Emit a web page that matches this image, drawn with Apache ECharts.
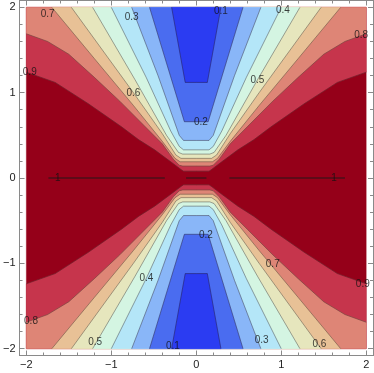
<!DOCTYPE html>
<html>
<head>
<meta charset="utf-8">
<script src="https://cdn.jsdelivr.net/npm/echarts@6/dist/echarts.min.js"></script>
<style>
  html, body { margin: 0; padding: 0; background: #fff; }
  #main { width: 374px; height: 373px; }
</style>
</head>
<body>
<div id="main"></div>
<script>
// contour levels, and band colours from the lowest band (0-0.1) up to the top one (0.9-1)
var levels = [0.1, 0.2, 0.3, 0.4, 0.5, 0.6, 0.7, 0.8, 0.9];
var bandColors = ['#2b3cf2', '#4a6cf0', '#89b6f8', '#b4e6f8', '#d4f5e2',
                  '#e6e6bd', '#e8c196', '#de8576', '#c6354c', '#950019'];

// upper-left branch of every contour, from the frame edge in to x = 0
// (the plot is symmetric in x and y, so the other three quarters are mirrored)
var c01 = [[-0.29, 2], [-0.13, 1.12], [0, 1.12]];
var c02 = [[-0.55, 2], [-0.14, 0.66], [0, 0.66]];
var c03 = [[-0.76, 2], [-0.45, 1.2], [-0.2, 0.5], [-0.15, 0.44], [0, 0.44]];
var c04 = [[-1.0, 2], [-0.59, 1.18], [-0.3, 0.55], [-0.2, 0.37], [-0.15, 0.33], [0, 0.33]];
var c05 = [[-1.22, 2], [-0.72, 1.15], [-0.35, 0.5], [-0.21, 0.3], [-0.16, 0.28], [0, 0.28]];
var c06 = [[-1.47, 2], [-0.74, 1.0], [-0.4, 0.52], [-0.24, 0.27], [-0.18, 0.23], [0, 0.23]];
var c07 = [[-1.70, 2], [-1.2, 1.4], [-0.74, 0.85], [-0.4, 0.43], [-0.25, 0.23], [-0.19, 0.19], [0, 0.19]];
var c08 = [[-2, 1.69], [-1.75, 1.6], [-1.5, 1.45], [-1.2, 1.18], [-0.9, 0.9], [-0.6, 0.6],
           [-0.4, 0.4], [-0.27, 0.22], [-0.2, 0.15], [-0.16, 0.14], [0, 0.14]];
var c09 = [[-2, 1.24], [-1.66, 1.12], [-1.27, 0.87], [-0.88, 0.6], [-0.68, 0.45], [-0.49, 0.33],
           [-0.3, 0.19], [-0.18, 0.1], [-0.15, 0.08], [0, 0.08]];
var branches = [c01, c02, c03, c04, c05, c06, c07, c08, c09];

// pieces of the level-1 contour lying on y = 0
var oneSegments = [[-1.74, -0.37], [-0.12, 0.12], [0.39, 1.75]];

// contour labels [x, y, text]
var contourLabels = [
  [-1.75, 1.92, '0.7'], [-0.76, 1.88, '0.3'], [0.29, 1.95, '0.1'], [1.02, 1.96, '0.4'],
  [1.94, 1.67, '0.8'], [-1.96, 1.235, '0.9'], [-0.74, 0.99, '0.6'], [0.72, 1.15, '0.5'],
  [0.055, 0.65, '0.2'], [-1.63, 0, '1'], [1.62, 0, '1'], [0.113, -0.67, '0.2'],
  [0.90, -1.01, '0.7'], [-0.586, -1.18, '0.4'], [1.96, -1.25, '0.9'], [-1.945, -1.68, '0.8'],
  [-1.19, -1.93, '0.5'], [-0.275, -1.97, '0.1'], [0.77, -1.90, '0.3'], [1.45, -1.95, '0.6']
];

var majorTicks = [-2, -1, 0, 1, 2];
var minorTicks = [-2, -1.8, -1.6, -1.4, -1.2, -1, -0.8, -0.6, -0.4, -0.2, 0,
                  0.2, 0.4, 0.6, 0.8, 1, 1.2, 1.4, 1.6, 1.8, 2];

// whole contour (left branch + mirrored right branch), sy = 1 upper half, -1 lower half
function fullContour(branch, sy) {
  var pts = branch.map(function (p) { return [p[0], p[1] * sy]; });
  for (var i = branch.length - 2; i >= 0; i--) {
    pts.push([-branch[i][0], branch[i][1] * sy]);
  }
  return pts;
}
// region on the far side of a contour (values below the level), closed along the frame
function regionBelow(branch, sy) {
  var pts = fullContour(branch, sy);
  if (branch[0][1] < 2) {
    pts.unshift([-2, 2 * sy]);
    pts.push([2, 2 * sy]);
  }
  return pts;
}

var shapes = [];
shapes.push({ kind: 'fill', color: bandColors[9], pts: [[-2, -2], [2, -2], [2, 2], [-2, 2]] });
for (var k = levels.length - 1; k >= 0; k--) {
  shapes.push({ kind: 'fill', color: bandColors[k], pts: regionBelow(branches[k], 1) });
  shapes.push({ kind: 'fill', color: bandColors[k], pts: regionBelow(branches[k], -1) });
}
for (var k = 0; k < levels.length; k++) {
  shapes.push({ kind: 'line', color: 'rgba(40,20,20,0.55)', width: 0.7, pts: fullContour(branches[k], 1) });
  shapes.push({ kind: 'line', color: 'rgba(40,20,20,0.55)', width: 0.7, pts: fullContour(branches[k], -1) });
}
oneSegments.forEach(function (s) {
  shapes.push({ kind: 'line', color: '#1a1a1a', width: 0.9, pts: [[s[0], 0], [s[1], 0]] });
});

var frameColor = '#8a8a8a';
function makeAxis(pos, ticks, len, withLabels) {
  return {
    type: 'value',
    position: pos,
    min: -2.08,
    max: 2.08,
    axisLine: { show: true, onZero: false, lineStyle: { color: frameColor, width: 1 } },
    axisTick: { show: true, inside: true, length: len, customValues: ticks,
                lineStyle: { color: frameColor, width: 1 } },
    axisLabel: {
      show: withLabels,
      customValues: majorTicks,
      margin: 4,
      fontSize: 11,
      fontFamily: 'Liberation Sans',
      color: '#222',
      formatter: function (v) { return String(v).replace('-', '\u2212'); }
    },
    splitLine: { show: false }
  };
}

var myChart = echarts.init(document.getElementById('main'));
var option = {
  animation: false,
  grid: { left: 17.5, right: 1, top: 0.5, bottom: 17.5, containLabel: false },
  xAxis: [
    makeAxis('bottom', majorTicks, 5, true),
    makeAxis('top', majorTicks, 5, false),
    makeAxis('bottom', minorTicks, 3, false),
    makeAxis('top', minorTicks, 3, false)
  ],
  yAxis: [
    makeAxis('left', majorTicks, 5, true),
    makeAxis('right', majorTicks, 5, false),
    makeAxis('left', minorTicks, 3, false),
    makeAxis('right', minorTicks, 3, false)
  ],
  series: [
    {
      type: 'custom',
      data: shapes.map(function () { return [0, 0]; }),
      renderItem: function (params, api) {
        var s = shapes[params.dataIndex];
        var pts = s.pts.map(function (p) { return api.coord(p); });
        if (s.kind === 'fill') {
          return { type: 'polygon', shape: { points: pts },
                   style: { fill: s.color, stroke: s.color, lineWidth: 0.4 } };
        }
        return { type: 'polyline', shape: { points: pts },
                 style: { fill: null, stroke: s.color, lineWidth: s.width } };
      },
      silent: true
    },
    {
      type: 'scatter',
      symbolSize: 0,
      data: contourLabels,
      label: {
        show: true,
        position: 'inside',
        formatter: function (p) { return p.value[2]; },
        color: '#111',
        fontSize: 10,
        fontFamily: 'Liberation Sans'
      },
      silent: true
    }
  ]
};
myChart.setOption(option);
</script>
</body>
</html>
